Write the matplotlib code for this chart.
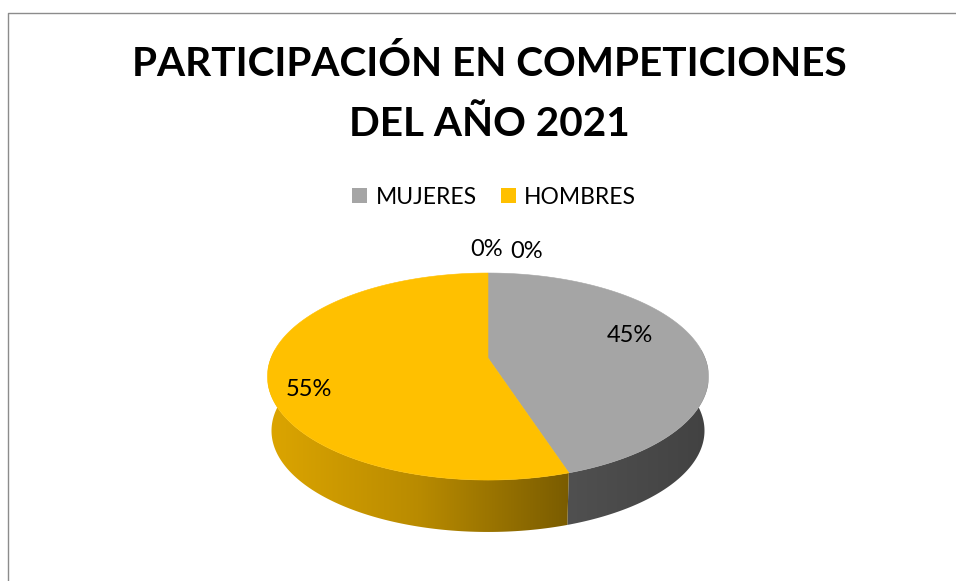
import numpy as np
import matplotlib
matplotlib.use("Agg")
import matplotlib.pyplot as plt
from matplotlib.colors import LinearSegmentedColormap
from matplotlib.patches import Patch, Polygon

categories = ["MUJERES", "HOMBRES", "", ""]
values = [45, 55, 0, 0]
colors = ["#A5A5A5", "#FFC000"]
title_text = "PARTICIPACIÓN EN COMPETICIONES\nDEL AÑO 2021"

plt.rcParams["font.family"] = ["Lato", "DejaVu Sans"]


def project(t, a, b, y0, p=0.179, x0=488):
    # t is degrees clockwise from the back of the disc
    t = np.radians(t)
    u = np.sin(t)
    v = -np.cos(t)
    d = 1 - p * v
    return x0 + a * u / d, y0 + b * v / d


def side_patch(ax, start, end, cmap_colors, x1, x2):
    t = np.linspace(start, end, 200)
    xt, yt = project(t, 217, 100.2, 358)
    xb, yb = project(t, 213, 98, 412.6)
    pts = np.column_stack([np.r_[xt, xb[::-1]], np.r_[yt, yb[::-1]]])
    poly = Polygon(pts, closed=True, fc="none", ec="none", transform=ax.transData)
    ax.add_patch(poly)
    cmap = LinearSegmentedColormap.from_list("side", cmap_colors)
    grad = np.linspace(0, 1, 256).reshape(1, -1)
    im = ax.imshow(grad, extent=[x1, x2, 540, 350], cmap=cmap, aspect="auto", zorder=2)
    im.set_clip_path(poly)


fig = plt.figure(figsize=(9.56, 5.81), dpi=100)
ax = fig.add_axes([0, 0, 1, 1])

edges = np.cumsum([0] + values) / sum(values) * 360

side_patch(ax, edges[0], edges[1], ["#505050", "#424242"], 567, 708)
side_patch(ax, edges[1], edges[2], ["#DCA500", "#B98B00", "#7A5C00"], 268, 569)

for i in range(2):
    t = np.linspace(edges[i], edges[i + 1], 200)
    x, y = project(t, 217, 100.2, 358)
    ax.fill(np.r_[488, x], np.r_[358, y], color=colors[i], lw=0.4, zorder=3)

ax.set_xlim(0, 956)
ax.set_ylim(581, 0)
ax.axis("off")

# chart frame, open at right and bottom
ax.plot([8.5, 8.5, 956], [581, 12.5, 12.5], color="#8C8C8C", lw=1)

ax.text(489, 94, title_text, ha="center", va="center", fontsize=29.2,
        fontweight="bold", color="black", linespacing=1.78)

handles = [Patch(fc=colors[0]), Patch(fc=colors[1])]
ax.legend(handles, categories[:2], ncols=2, frameon=False, fontsize=16.5,
          loc="center", bbox_to_anchor=(494 / 956, 1 - 197 / 581),
          handlelength=0.66, handleheight=0.66, handletextpad=0.35, columnspacing=1.05)

label_pos = [(630, 336), (309, 390), (487, 250), (527, 252)]
for v, (lx, ly) in zip(values, label_pos):
    ax.text(lx, ly, f"{v}%", ha="center", va="center", fontsize=17, color="black", zorder=5)

fig.savefig("out.png", dpi=100)
